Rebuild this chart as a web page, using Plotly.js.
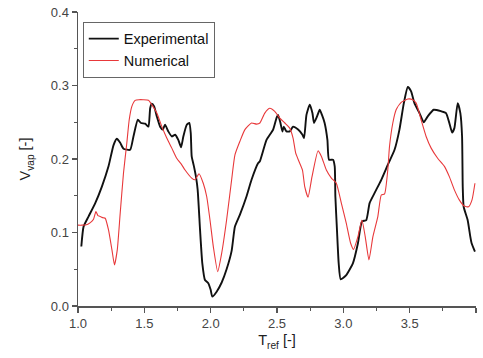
<!DOCTYPE html>
<html>
<head>
<meta charset="utf-8">
<script src="https://cdn.plot.ly/plotly-3.0.1.min.js"></script>
<style>html,body{margin:0;padding:0;background:#fff;}#chart{width:483px;height:358px;}</style>
</head>
<body>
<div id="chart"></div>
<script>
// Experimental series
const expT = [1.025,1.042,1.08,1.13,1.18,1.23,1.268,1.293,1.318,1.343,1.393,1.418,1.451,1.475,1.506,1.531,1.544,1.556,1.574,1.594,1.619,1.639,1.656,1.681,1.707,1.732,1.756,1.777,1.794,1.820,1.839,1.850,1.857,1.874,1.890,1.902,1.92,1.937,1.957,1.982,2.000,2.012,2.045,2.083,2.12,2.158,2.183,2.22,2.27,2.308,2.358,2.371,2.421,2.471,2.496,2.508,2.526,2.541,2.551,2.571,2.596,2.621,2.659,2.692,2.704,2.722,2.747,2.767,2.779,2.802,2.822,2.839,2.859,2.880,2.892,2.922,2.935,2.94,2.952,2.965,2.98,3.022,3.072,3.11,3.14,3.173,3.198,3.235,3.286,3.335,3.386,3.423,3.456,3.486,3.511,3.536,3.574,3.606,3.636,3.681,3.737,3.774,3.799,3.82,3.837,3.862,3.882,3.895,3.9,3.907,3.937,3.957,3.967,3.992];
const expV = [0.081,0.108,0.122,0.140,0.1625,0.19,0.219,0.2275,0.222,0.214,0.2125,0.2307,0.2534,0.249,0.248,0.244,0.269,0.2752,0.2716,0.258,0.244,0.24,0.2466,0.2375,0.2307,0.233,0.226,0.216,0.2307,0.2466,0.249,0.235,0.2035,0.19,0.175,0.158,0.1035,0.058,0.0354,0.031,0.022,0.0127,0.0195,0.032,0.05,0.075,0.108,0.124,0.149,0.1717,0.1944,0.197,0.226,0.24,0.2557,0.26,0.249,0.2375,0.244,0.2375,0.2375,0.244,0.24,0.233,0.2285,0.26,0.274,0.2625,0.249,0.258,0.267,0.26,0.249,0.226,0.199,0.199,0.19,0.149,0.1035,0.058,0.0363,0.042,0.058,0.0854,0.1149,0.117,0.14,0.1535,0.1717,0.192,0.2125,0.24,0.276,0.298,0.292,0.276,0.2625,0.25,0.258,0.267,0.265,0.2625,0.249,0.236,0.242,0.276,0.2625,0.2307,0.1625,0.135,0.117,0.0944,0.0854,0.074];

// Numerical series
const numT = [1.0,1.03,1.07,1.093,1.117,1.135,1.15,1.168,1.19,1.205,1.23,1.256,1.275,1.296,1.318,1.343,1.368,1.386,1.406,1.431,1.46,1.49,1.531,1.556,1.594,1.632,1.669,1.707,1.744,1.782,1.807,1.857,1.882,1.912,1.944,1.97,1.995,2.02,2.053,2.083,2.12,2.158,2.183,2.22,2.258,2.308,2.346,2.371,2.408,2.446,2.483,2.521,2.559,2.596,2.621,2.641,2.666,2.692,2.709,2.734,2.764,2.809,2.835,2.872,2.91,2.947,2.985,3.022,3.055,3.077,3.11,3.14,3.165,3.193,3.223,3.26,3.286,3.311,3.335,3.348,3.373,3.398,3.436,3.486,3.523,3.549,3.586,3.624,3.662,3.711,3.762,3.799,3.837,3.874,3.911,3.944,3.970,3.992];
const numV = [0.110,0.110,0.111,0.1135,0.118,0.1285,0.123,0.1217,0.120,0.1194,0.1035,0.0763,0.0559,0.0763,0.126,0.181,0.2217,0.2534,0.2716,0.2797,0.2807,0.2807,0.2800,0.274,0.2625,0.244,0.2285,0.2148,0.201,0.192,0.185,0.174,0.1717,0.18,0.167,0.149,0.117,0.0808,0.0467,0.0718,0.117,0.1717,0.2057,0.2239,0.24,0.249,0.2475,0.249,0.2625,0.269,0.2647,0.2557,0.249,0.242,0.2285,0.208,0.1966,0.185,0.1625,0.148,0.176,0.211,0.2035,0.185,0.174,0.167,0.14,0.1127,0.0854,0.077,0.0944,0.117,0.0944,0.0627,0.0944,0.1217,0.151,0.1526,0.185,0.217,0.249,0.267,0.277,0.2816,0.2807,0.276,0.2534,0.2307,0.2148,0.201,0.19,0.176,0.158,0.1444,0.136,0.135,0.1444,0.167];

const seriesNames = ['Experimental', 'Numerical'];
const xTitle = 'T<sub>ref</sub> [-]';
const yTitle = 'V<sub>vap</sub> [-]';

const FONT = 'Arial, "Liberation Sans", sans-serif';

const traces = [
  {x: expT, y: expV, name: seriesNames[0], type: 'scatter', mode: 'lines',
   line: {color: '#111111', width: 1.9, shape: 'spline', smoothing: 0.5}},
  {x: numT, y: numV, name: seriesNames[1], type: 'scatter', mode: 'lines',
   line: {color: '#e8383a', width: 1.1, shape: 'spline', smoothing: 0.5}}
];

const layout = {
  width: 483, height: 358,
  margin: {l: 78, r: 7, t: 12, b: 52},
  paper_bgcolor: '#ffffff', plot_bgcolor: '#ffffff',
  font: {family: FONT, color: '#222'},
  showlegend: true,
  legend: {x: 0.012, y: 0.967, xanchor: 'left', yanchor: 'top',
           bordercolor: '#666', borderwidth: 1, bgcolor: '#fff',
           font: {size: 14.5, color: '#111', family: FONT}, itemwidth: 30, tracegroupgap: 0},
  xaxis: {range: [1, 4], tick0: 1, dtick: 0.5, tickformat: '.1f',
          showline: true, linecolor: '#555', linewidth: 1.5, showgrid: false, zeroline: false,
          ticks: 'outside', ticklen: 5, tickwidth: 1.2, tickcolor: '#555',
          minor: {dtick: 0.25, ticks: 'outside', ticklen: 3, tickcolor: '#555', tickwidth: 1.2, showgrid: false},
          tickfont: {size: 13, color: '#444', family: FONT},
          title: {text: xTitle, font: {size: 14.5, color: '#222', family: FONT}, standoff: 5}},
  yaxis: {range: [0, 0.4], tick0: 0, dtick: 0.1, tickformat: '.1f',
          showline: true, linecolor: '#555', linewidth: 1.5, showgrid: false, zeroline: false,
          ticks: 'outside', ticklen: 5, tickwidth: 1.2, tickcolor: '#555',
          minor: {dtick: 0.05, ticks: 'outside', ticklen: 3, tickcolor: '#555', tickwidth: 1.2, showgrid: false},
          tickfont: {size: 13, color: '#444', family: FONT},
          title: {text: yTitle, font: {size: 14.5, color: '#222', family: FONT}, standoff: 16}},
  xaxis2: {overlaying: 'x', side: 'top', anchor: 'y', range: [1, 4], tick0: 1, dtick: 0.25,
           showline: true, linecolor: '#777', linewidth: 1.5, showgrid: false, zeroline: false,
           ticks: 'inside', ticklen: 3, tickwidth: 1.2, tickcolor: '#555', showticklabels: false},
  yaxis2: {overlaying: 'y', side: 'right', anchor: 'x', range: [0, 0.4],
           showline: true, linecolor: '#888', linewidth: 1.5, showgrid: false, zeroline: false,
           ticks: '', showticklabels: false}
};

Plotly.newPlot('chart', traces, layout, {displayModeBar: false, staticPlot: true});
</script>
</body>
</html>
